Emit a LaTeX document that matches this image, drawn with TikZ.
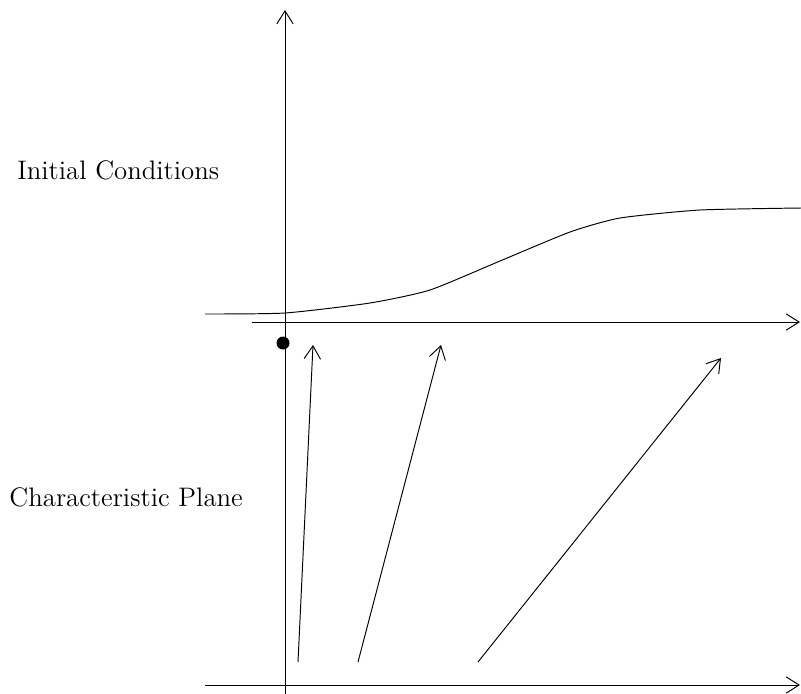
\documentclass[tikz,border=0pt]{standalone}
\usetikzlibrary{arrows.meta}
\begin{document}
\begin{tikzpicture}[x=0.415pt,y=-0.415pt,
  ax/.style={-{Straight Barb[length=5.4pt,width=6.8pt,line width=0.4pt]},line width=0.4pt},
  lbl/.style={font=\fontsize{11.1}{13}\selectfont,inner sep=0pt}]
\useasboundingbox (0,0) rectangle (801,693);
% axes
\coordinate (vb) at (285,700);
\coordinate (vt) at (285,10);
\coordinate (tl) at (252,322);
\coordinate (tr) at (800,322);
\coordinate (bl) at (205,685);
\coordinate (br) at (800,685);
\draw[ax] (vb) -- (vt);
\draw[ax] (tl) -- (tr);
\draw[ax] (bl) -- (br);
% curve
\draw[line width=0.4pt] plot[smooth,tension=0.35] coordinates {(205,314) (285,313) (370,303) (430,290) (500,261) (570,232) (620,218) (700,210) (801,208)};
% dot
\fill (283,343) circle (6.5);
% characteristics
\coordinate (a1) at (298,662); \coordinate (b1) at (313,345);
\coordinate (a2) at (358,662); \coordinate (b2) at (441,345);
\coordinate (a3) at (478,662); \coordinate (b3) at (721,358);
\draw[ax] (a1) -- (b1);
\draw[ax] (a2) -- (b2);
\draw[ax] (a3) -- (b3);
% labels
\node[lbl,anchor=west] (ic) at (17,170) {Initial Conditions};
\node[lbl,anchor=west] (cp) at (9,497) {Characteristic Plane};
\end{tikzpicture}
\end{document}
